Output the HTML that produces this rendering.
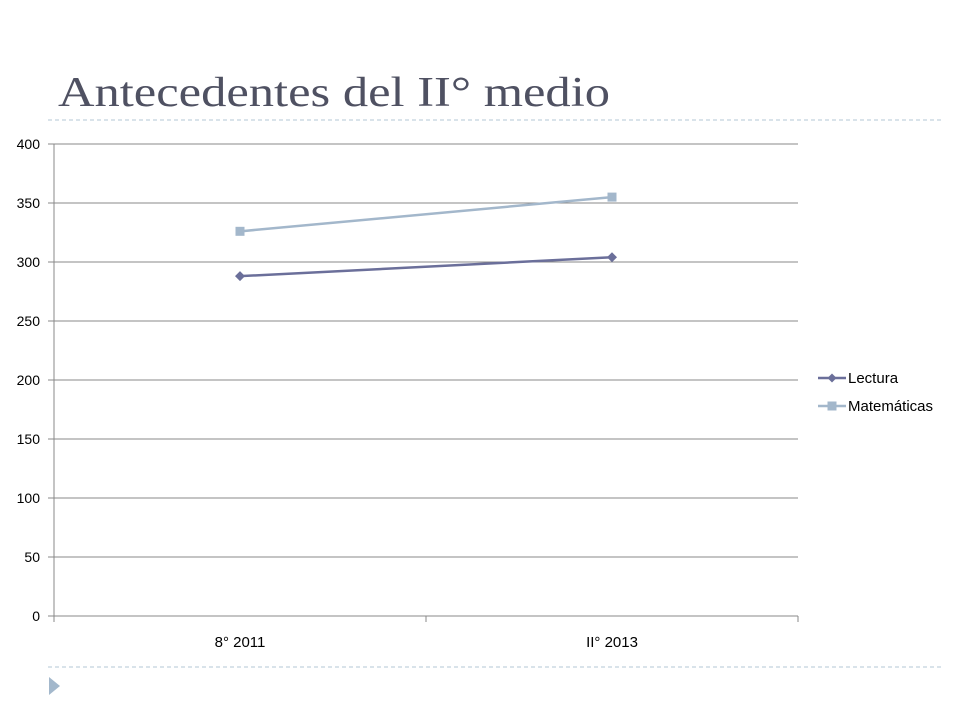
<!DOCTYPE html>
<html><head><meta charset="utf-8"><style>
body{margin:0;background:#fff;width:960px;height:720px;overflow:hidden;font-family:"Liberation Sans",sans-serif;}
</style></head><body>
<svg width="960" height="720" viewBox="0 0 960 720" xmlns="http://www.w3.org/2000/svg">
<text x="58" y="106" font-family="Liberation Serif, serif" font-size="42" fill="#4f5162" textLength="552" lengthAdjust="spacingAndGlyphs">Antecedentes del II° medio</text>
<line x1="48" y1="120" x2="942" y2="120" stroke="#b3c7d6" stroke-dasharray="4,3"/>
<line x1="48" y1="667" x2="942" y2="667" stroke="#b3c7d6" stroke-dasharray="4,3"/>
<polygon points="49,677 60,686 49,695" fill="#a3b8cc"/>
<g id="chart"></g>
</svg>
<script>
const categories=["8° 2011","II° 2013"];
const lectura=[288,304];
const matematicas=[326,355];
const yTicks=[0,50,100,150,200,250,300,350,400];
const NS="http://www.w3.org/2000/svg";
const g=document.getElementById("chart");
const L=54,R=798,T=144,B=616,yMax=400;
const y=v=>B-(v/yMax)*(B-T);
const bw=(R-L)/categories.length;
const x=i=>L+bw*(i+0.5);
function mk(tag,a){const e=document.createElementNS(NS,tag);for(const k in a)e.setAttribute(k,a[k]);g.appendChild(e);return e;}
yTicks.forEach(t=>{
 const ln=mk("line",{x1:48,x2:R,y1:y(t),y2:y(t),stroke:"#888","stroke-width":1});
 
 
 const tx=mk("text",{x:40,y:y(t)+5,"text-anchor":"end","font-size":14,fill:"#000"});
 tx.textContent=t;
 
 
});
const ax=mk("line",{x1:L,x2:L,y1:T,y2:B+4,stroke:"#888"});


for(let i=0;i<=categories.length;i++){
 const tk=mk("line",{x1:L+bw*i,x2:L+bw*i,y1:B,y2:B+6,stroke:"#888"});
 
 
}
categories.forEach((c,i)=>{
 const tx=mk("text",{x:x(i),y:647,"text-anchor":"middle","font-size":15,fill:"#000"});
 tx.textContent=c;
 
 
});
function series(vals,color,shape,name){
 const pl=mk("polyline",{points:vals.map((v,i)=>x(i)+","+y(v)).join(" "),fill:"none",stroke:color,"stroke-width":2.5});
 
 
 vals.forEach((v,i)=>{
  let m;
  if(shape==="d")m=mk("polygon",{points:`${x(i)},${y(v)-5} ${x(i)+5},${y(v)} ${x(i)},${y(v)+5} ${x(i)-5},${y(v)}`,fill:color});
  else m=mk("rect",{x:x(i)-4.5,y:y(v)-4.5,width:9,height:9,fill:color});
  
  
 });
}
series(lectura,"#6b6f9a","d","lectura");
series(matematicas,"#a3b7cb","s","matematicas");
function leg(yy,color,shape,label,name){
 const ln=mk("line",{x1:818,x2:846,y1:yy,y2:yy,stroke:color,"stroke-width":2.5});
 
 
 let m;
 if(shape==="d")m=mk("polygon",{points:`832,${yy-4.5} 836.5,${yy} 832,${yy+4.5} 827.5,${yy}`,fill:color});
 else m=mk("rect",{x:827.5,y:yy-4.5,width:9,height:9,fill:color});
 
 
 const t=mk("text",{x:848,y:yy+5,"font-size":15,fill:"#000"});
 t.textContent=label;
 
 
}
leg(378,"#6b6f9a","d","Lectura","lectura");
leg(406,"#a3b7cb","s","Matemáticas","matematicas");
</script>
</body></html>
